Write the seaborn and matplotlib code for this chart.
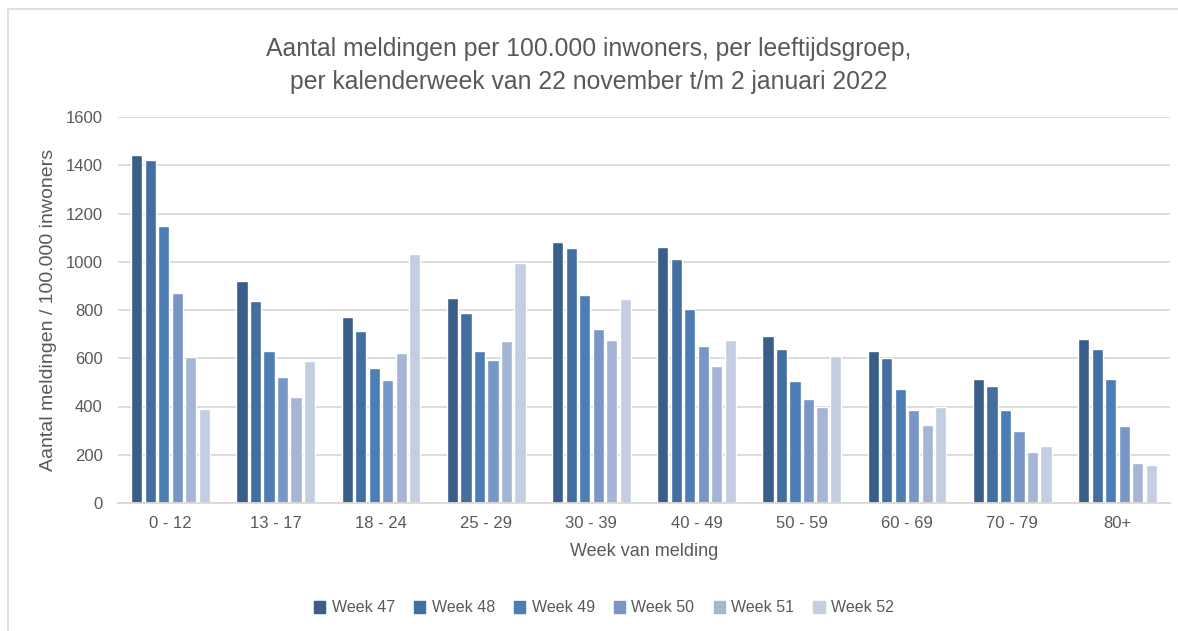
import numpy as np
import pandas as pd
import matplotlib.pyplot as plt
import matplotlib.patches as mpatches
import seaborn as sns

# data
leeftijden = ["0 - 12", "13 - 17", "18 - 24", "25 - 29", "30 - 39",
              "40 - 49", "50 - 59", "60 - 69", "70 - 79", "80+"]
weken = ["Week 47", "Week 48", "Week 49", "Week 50", "Week 51", "Week 52"]
week47 = [1443, 921, 772, 848, 1082, 1061, 692, 628, 516, 680]
week48 = [1423, 837, 712, 788, 1057, 1010, 640, 600, 484, 638]
week49 = [1149, 632, 560, 629, 861, 804, 504, 472, 384, 513]
week50 = [869, 524, 508, 592, 720, 652, 431, 384, 298, 319]
week51 = [604, 439, 620, 671, 676, 568, 399, 323, 210, 166]
week52 = [388, 589, 1033, 994, 845, 676, 608, 400, 235, 156]
kleuren = ["#3A5E8A", "#426EA0", "#4C7DB4", "#7896C6", "#A4B5D5", "#C4CEE2"]

series = [week47, week48, week49, week50, week51, week52]
rows = []
for w, vals in zip(weken, series):
    for lt, v in zip(leeftijden, vals):
        rows.append({"leeftijd": lt, "week": w, "waarde": v})
df = pd.DataFrame(rows)

sns.set_style("white")
plt.rcParams["font.family"] = ["Liberation Sans", "DejaVu Sans"]

fig = plt.figure(figsize=(11.78, 6.31), dpi=100)
ax = fig.add_axes([118 / 1178, 128 / 631, 1052 / 1178, 386 / 631])

sns.barplot(data=df, x="leeftijd", y="waarde", hue="week", order=leeftijden,
            hue_order=weken, palette=kleuren, width=0.77, gap=0.17,
            saturation=1, ax=ax, legend=False)

grijs = "#595959"
ax.set_ylim(0, 1600)
ax.set_xlim(-0.5, 9.5)
ax.set_yticks(range(0, 1601, 200))
ax.yaxis.grid(True, color="#D9D9D9", linewidth=1.3)
ax.set_axisbelow(True)
for s in ["top", "right", "left"]:
    ax.spines[s].set_visible(False)
ax.spines["bottom"].set_color("#D9D9D9")
ax.spines["bottom"].set_linewidth(1.3)
ax.tick_params(axis="both", length=0, labelsize=12, labelcolor=grijs)
ax.tick_params(axis="y", pad=11)
ax.tick_params(axis="x", pad=9)
ax.set_xlabel("Week van melding", fontsize=13, color=grijs, labelpad=9)
ax.set_ylabel("Aantal meldingen / 100.000 inwoners", fontsize=14, color=grijs)
ax.yaxis.set_label_coords((57 - 118) / 1052, 0.5)

fig.text(0.5, 1 - 65.5 / 631,
         "Aantal meldingen per 100.000 inwoners, per leeftijdsgroep,\nper kalenderweek van 22 november t/m 2 januari 2022",
         ha="center", va="center", fontsize=17.8, color=grijs, linespacing=1.45)

handles = [mpatches.Patch(color=c, label=w) for w, c in zip(weken, kleuren)]
fig.legend(handles=handles, loc="center", bbox_to_anchor=(604 / 1178, 1 - 608 / 631),
           ncol=6, frameon=False, fontsize=11.5, labelcolor=grijs,
           handlelength=0.7, handleheight=0.7, handletextpad=0.4, columnspacing=1.2)

# rand om de grafiek
fig.add_artist(mpatches.Rectangle((8 / 1178, -0.1), 1.2, 1 - 9 / 631 + 0.1,
                                  transform=fig.transFigure, fill=False,
                                  edgecolor="#D9D9D9", linewidth=1.2))

fig.savefig("out.png", dpi=100, facecolor="white")
